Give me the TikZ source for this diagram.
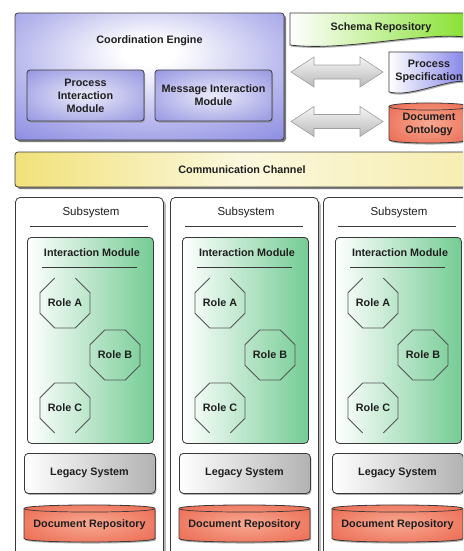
\documentclass[tikz,border=0pt]{standalone}
\usepackage{fontspec}
\setmainfont{Liberation Sans}
\usetikzlibrary{shadows,calc}

\definecolor{edgeline}{HTML}{3A3A3A}
\definecolor{engineblue}{HTML}{7A7ADE}
\definecolor{moduleblue}{HTML}{7878DA}
\definecolor{schemagreen}{HTML}{84E02C}
\definecolor{specblue}{HTML}{7E7EE8}
\definecolor{ontored}{HTML}{E8553A}
\definecolor{ontolight}{HTML}{F7A892}
\definecolor{chanyellow}{HTML}{EEDC62}
\definecolor{imgreen}{HTML}{74CC94}
\definecolor{legacygrey}{HTML}{B2B2B2}
\definecolor{rolegrey}{HTML}{555555}

\pgfdeclareradialshading{engineglow}{\pgfpoint{0bp}{10bp}}{color(0bp)=(white); color(5bp)=(white); color(24bp)=(white!50!engineblue); color(46bp)=(engineblue); color(100bp)=(engineblue)}
\pgfdeclareradialshading{moduleglow}{\pgfpoint{0bp}{0bp}}{color(0bp)=(white!85!moduleblue); color(48bp)=(moduleblue); color(100bp)=(moduleblue)}
\pgfdeclareradialshading{redglow}{\pgfpoint{0bp}{0bp}}{color(0bp)=(ontolight); color(46bp)=(ontored); color(100bp)=(ontored)}

\tikzset{
  box/.style={draw=edgeline, line width=0.8pt, rounded corners=3pt},
  shadowed/.style={drop shadow={shadow xshift=2pt, shadow yshift=-2pt, fill=black!60, opacity=0.85}},
  softshadow/.style={drop shadow={shadow xshift=1pt, shadow yshift=-1.5pt, fill=black!45, opacity=0.7}},
  lbl/.style={font=\bfseries\fontsize{10.8}{13}\selectfont, align=center, inner sep=0pt, text=black!88},
  sublbl/.style={font=\fontsize{11.5}{13}\selectfont, inner sep=0pt, text=black!88},
  rule/.style={draw=edgeline, line width=0.9pt},
  roleline/.style={draw=rolegrey, line width=0.8pt},
  rolenode/.style={circle, minimum size=50pt, inner sep=0pt, lbl},
  arrowbody/.style={draw=gray!75, line width=0.6pt, top color=gray!8, bottom color=gray!55},
  drumbody/.style={draw=edgeline, line width=0.8pt, shading=redglow},
}

% octagon of radius 27 round a node; #2 = first corner, 7 edges are drawn
\newcommand{\octagonopen}[2]{%
  \draw[roleline] ($(#1)+(#2:27)$) \foreach \k in {1,...,7} { -- ($(#1)+(#2+45*\k:27)$) };}
\newcommand{\octagonclosed}[1]{%
  \draw[roleline] ($(#1)+(22.5:27)$) \foreach \k in {1,...,7} { -- ($(#1)+(22.5+45*\k:27)$) } -- cycle;}

% cylinder between x0=#2, y0=#3 and x1=#4, y1=#5, text #6, node name #1
\newcommand{\drum}[6]{%
  \fill[black!45, opacity=0.7, shift={(1,1.5)}] (#2,#3+3.5) .. controls (#2,#3-1.2) and (#4,#3-1.2) .. (#4,#3+3.5)
     -- (#4,#5-3.5) .. controls (#4,#5+1.2) and (#2,#5+1.2) .. (#2,#5-3.5) -- cycle;
  \shadedraw[drumbody] (#2,#3+3.5) .. controls (#2,#3-1.2) and (#4,#3-1.2) .. (#4,#3+3.5)
     -- (#4,#5-3.5) .. controls (#4,#5+1.2) and (#2,#5+1.2) .. (#2,#5-3.5) -- cycle;
  \draw[edgeline, line width=0.7pt] (#2,#3+3.5) .. controls (#2,#3+8.2) and (#4,#3+8.2) .. (#4,#3+3.5);
  \node[lbl] (#1) at ({(#2+#4)/2},{(#3+#5)/2+1.5}) {#6};}

% two-headed block arrow from x=#1 to x=#2 round the line y=#3
\newcommand{\twoheadarrow}[3]{%
  \shadedraw[arrowbody] (#1,#3) -- (#1+23,#3-15) -- (#1+23,#3-7) -- (#2-23,#3-7) -- (#2-23,#3-15)
     -- (#2,#3) -- (#2-23,#3+15) -- (#2-23,#3+7) -- (#1+23,#3+7) -- (#1+23,#3+15) -- cycle;}

\begin{document}
\begin{tikzpicture}[x=1pt, y=-1pt]
\useasboundingbox (0,0) rectangle (463,551);
\clip (0,0) rectangle (463,551);
\fill[white] (0,0) rectangle (463,551);

% coordination engine with its two modules
\node[box, shadowed, shade, shading=engineglow, minimum width=269pt, minimum height=127pt] (engine) at (149.5,76.5) {};
\node[lbl] (enginetitle) at (149.5,41) {Coordination Engine};
\node[box, softshadow, shade, shading=moduleglow, minimum width=117pt, minimum height=51pt, lbl] (pim) at (85.5,95.5) {Process\\Interaction\\Module};
\node[box, softshadow, shade, shading=moduleglow, minimum width=117pt, minimum height=51pt, lbl] (mim) at (213.5,95.5) {Message Interaction\\Module};

% schema repository (document shape)
\fill[black!45, opacity=0.7, shift={(1,1.5)}] (290,13) -- (472,13) -- (472,38) .. controls (430,30) and (345,52) .. (290,45) -- cycle;
\shadedraw[draw=edgeline, line width=0.8pt, left color=white, right color=schemagreen]
  (290,13) -- (472,13) -- (472,38) .. controls (430,30) and (345,52) .. (290,45) -- cycle;
\node[lbl] (schema) at (381,28) {Schema Repository};

% process specification (document shape)
\fill[black!45, opacity=0.7, shift={(1,1.5)}] (389,52) -- (470,52) -- (470,82) .. controls (450,77) and (412,98) .. (389,92) -- cycle;
\shadedraw[draw=edgeline, line width=0.8pt, left color=white, right color=specblue]
  (389,52) -- (470,52) -- (470,82) .. controls (450,77) and (412,98) .. (389,92) -- cycle;
\node[lbl] (spec) at (429,71.5) {Process\\Specification};

% document ontology
\drum{onto}{389}{103}{469}{143}{Document\\Ontology}

% exchange arrows between engine and repositories
\twoheadarrow{291}{383}{72}
\twoheadarrow{291}{383}{121.5}

% communication channel
\node[box, shadowed, left color=chanyellow!85, right color=chanyellow!50, middle color=chanyellow!22, minimum width=454pt, minimum height=35pt, lbl] (channel) at (242,169.5) {Communication Channel};

% subsystems
\foreach \c/\o in {1/0, 2/155, 3/308} {
  \node[box, rounded corners=5pt, fill=white, drop shadow={shadow xshift=2.5pt, shadow yshift=-2.5pt, fill=black!55}, minimum width=148pt, minimum height=380pt, anchor=north west] (sub\c) at (15+\o,197) {};
  \node[sublbl] (subtitle\c) at (91+\o,213) {Subsystem};
  \draw[rule] (30+\o,226) -- (148+\o,226);

  \node[box, rounded corners=4pt, left color=white, right color=imgreen, minimum width=126pt, minimum height=206pt, anchor=north west] (im\c) at (27+\o,237) {};
  \node[lbl] (imtitle\c) at (92+\o,253) {Interaction Module};
  \draw[rule] (42+\o,267) -- (137+\o,267);

  \node[rolenode] (ra\c) at (65+\o,303) {Role A};
  \node[rolenode] (rb\c) at (115+\o,355) {Role B};
  \node[rolenode] (rc\c) at (65+\o,408) {Role C};
  \octagonopen{ra\c}{292.5}
  \octagonclosed{rb\c}
  \octagonopen{rc\c}{112.5}

  \node[box, rounded corners=4pt, softshadow, left color=white, right color=legacygrey, minimum width=131pt, minimum height=40pt, anchor=north west] (legacy\c) at (24+\o,453) {};
  \node[lbl] (legacytext\c) at (89.5+\o,473) {Legacy System};

  \drum{repo\c}{24+\o}{505}{155+\o}{542}{Document Repository}
}
\end{tikzpicture}
\end{document}
